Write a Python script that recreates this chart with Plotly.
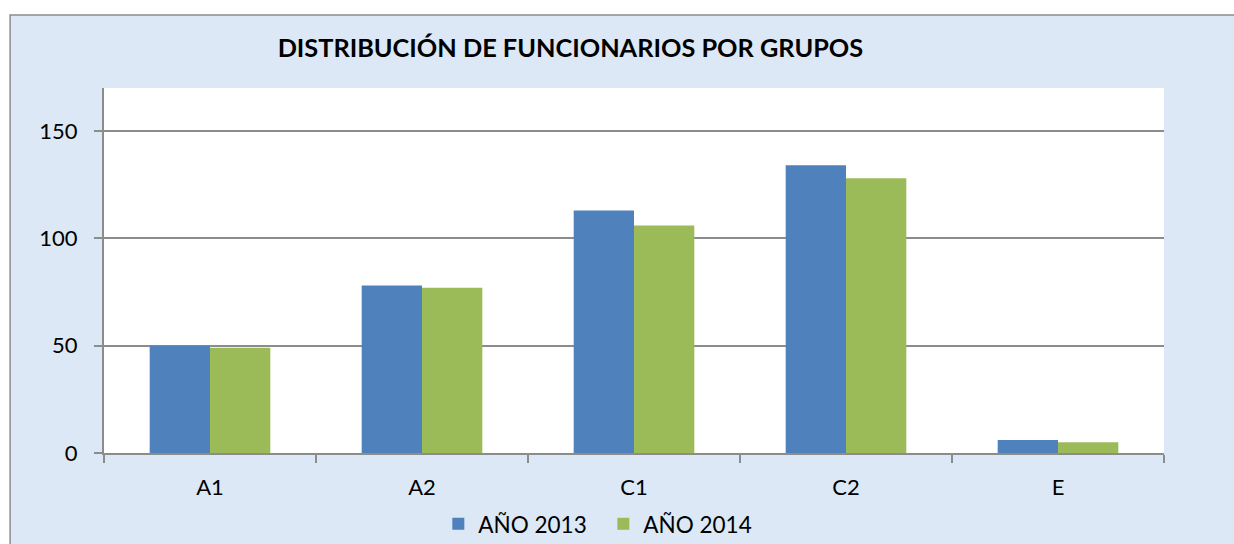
import plotly.graph_objects as go

categories = ["A1", "A2", "C1", "C2", "E"]
serie_2013 = [50, 78, 113, 134, 6]
serie_2014 = [49, 77, 106, 128, 5]
series_names = ["AÑO 2013", "AÑO 2014"]
y_ticks = [0, 50, 100, 150]
title_text = "DISTRIBUCIÓN DE FUNCIONARIOS POR GRUPOS"

FONT = "Lato, 'Open Sans', sans-serif"

fig = go.Figure()
fig.add_trace(go.Bar(x=categories, y=serie_2013, name=series_names[0],
                     marker=dict(color="#4F81BD", line=dict(width=0))))
fig.add_trace(go.Bar(x=categories, y=serie_2014, name=series_names[1],
                     marker=dict(color="#9BBB59", line=dict(width=0))))

fig.update_layout(
    width=1234, height=544,
    margin=dict(l=103.5, r=70, t=88, b=91, autoexpand=False),
    paper_bgcolor="white",
    plot_bgcolor="white",
    barmode="group", bargap=0.431, bargroupgap=0,
    font=dict(family=FONT, size=22, color="#000000"),
    title=dict(text="<b>" + title_text + "</b>", x=0.44, xref="paper", xanchor="center",
               y=1 - 48 / 544, yref="container", yanchor="middle",
               font=dict(family=FONT, size=25.3, color="#000000")),
    showlegend=True,
    legend=dict(orientation="h", x=0.3154, xanchor="left", y=-0.195, yanchor="middle",
                yref="paper", bgcolor="rgba(0,0,0,0)", font=dict(family=FONT, size=22.5),
                entrywidth=120, entrywidthmode="pixels",
                itemclick=False, traceorder="normal"),
    xaxis=dict(type="category", showline=True, linecolor="#8C8C8C", linewidth=2,
               ticks="outside", tickson="boundaries", ticklen=8, tickwidth=2,
               tickcolor="#8C8C8C", showgrid=False, ticklabelstandoff=14,
               tickfont=dict(family=FONT, size=22, color="#000000")),
    yaxis=dict(range=[0, 170], tickvals=y_ticks, showline=True, linecolor="#8C8C8C",
               linewidth=2, ticks="outside", ticklen=8, tickwidth=2, tickcolor="#8C8C8C",
               showgrid=True, gridcolor="#8C8C8C", gridwidth=1.5, zeroline=False,
               ticklabelstandoff=12,
               tickfont=dict(family=FONT, size=22, color="#000000")),
    shapes=[
        dict(type="rect", xref="paper", yref="paper", x0=-0.0886, x1=1.1, y0=-0.4, y1=1.2,
             fillcolor="#DCE8F5", line=dict(color="#8C8C8C", width=1.5), layer="below"),
        dict(type="rect", xref="paper", yref="paper", x0=0, x1=1, y0=0, y1=1,
             fillcolor="white", line=dict(width=0), layer="below"),
    ],
)

fig.write_html(
    "out.html",
    config={"displayModeBar": False},
    post_script="document.body.style.margin='0';document.body.style.overflow='hidden';",
)
